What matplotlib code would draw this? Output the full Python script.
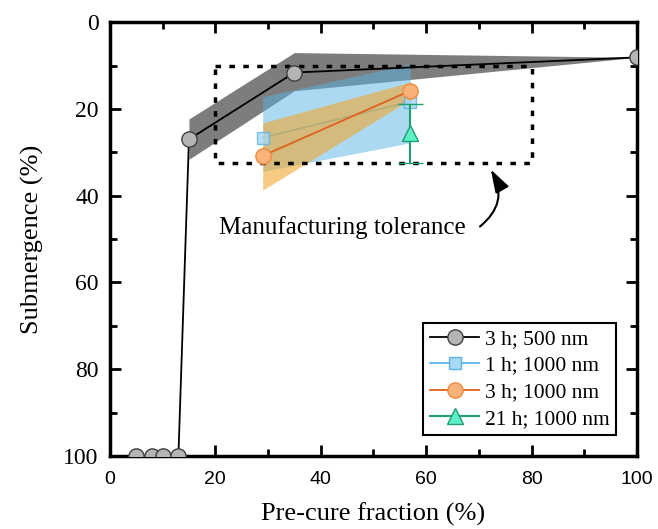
import numpy as np
import matplotlib
matplotlib.use("Agg")
import matplotlib.pyplot as plt
from matplotlib.lines import Line2D
from matplotlib.ticker import MultipleLocator

# 3 h; 500 nm
x_500 = [5, 8, 10, 13, 15, 35, 100]
y_500 = [100, 100, 100, 100, 27.0, 11.6, 8.1]
band_500_x = [15, 35, 100]
band_500_lo = [22.3, 7.0, 8.1]
band_500_hi = [31.6, 15.8, 8.1]

# 1 h; 1000 nm
x_1h = [29, 57]
y_1h = [26.6, 18.3]
band_1h_lo = [17.2, 9.6]
band_1h_hi = [34.4, 27.8]

# 3 h; 1000 nm
x_3h = [29, 57]
y_3h = [30.8, 15.8]
band_3h_lo = [23.2, 13.8]
band_3h_hi = [38.7, 17.8]

# 21 h; 1000 nm
x_21h = [57]
y_21h = [25.6]
err_21h = [6.8]

# tolerance box
tol_x = [20, 80]
tol_y = [10, 32.4]

serif = "Liberation Serif"
sans = "Liberation Sans"

c_blue = "#5ab4e6"
c_orange = "#e0601e"
c_green = "#1f9e70"

fig = plt.figure(figsize=(6.58, 5.29), dpi=100)
ax = fig.add_axes([0.167, 0.138, 0.801, 0.820])

ax.fill_between(band_500_x, band_500_lo, band_500_hi, color="#7d7d7d", lw=0, zorder=1)
ax.fill_between(x_1h, band_1h_lo, band_1h_hi, color=c_blue, alpha=0.5, lw=0, zorder=2)
ax.plot(x_1h, y_1h, color=c_blue, lw=1.2, zorder=2.5)
ax.fill_between(x_3h, band_3h_lo, band_3h_hi, color="#f0a830", alpha=0.6, lw=0, zorder=3)

# tolerance box
ax.plot([tol_x[0], tol_x[1], tol_x[1], tol_x[0], tol_x[0]],
        [tol_y[0], tol_y[0], tol_y[1], tol_y[1], tol_y[0]],
        color="black", lw=2.5, ls=(0, (1.6, 2.4)), zorder=4)

ax.plot(x_500, y_500, color="black", lw=1.3, marker="o", ms=11,
        mfc="#b5b5b5", mec="#404040", mew=1.0, zorder=6)
ax.plot(x_1h, y_1h, ls="none", marker="s", ms=9,
        mfc="#a8d8f4", mec=c_blue, mew=1.0, alpha=0.8, zorder=5)
ax.plot(x_3h, y_3h, color=c_orange, lw=1.3, marker="o", ms=11,
        mfc="#f9b27a", mec="#f08a40", mew=1.0, zorder=6)
ax.errorbar(x_21h, y_21h, yerr=err_21h, color=c_green, lw=1.5, marker="^", ms=12,
            mfc="#5cf0c4", mec=c_green, mew=1.0, capsize=9, capthick=1.5, zorder=7)

ax.set_xlim(0, 100)
ax.set_ylim(100, 0)
ax.xaxis.set_major_locator(MultipleLocator(20))
ax.xaxis.set_minor_locator(MultipleLocator(10))
ax.yaxis.set_major_locator(MultipleLocator(20))
ax.yaxis.set_minor_locator(MultipleLocator(10))
ax.tick_params(which="both", direction="in", top=True, right=True, width=2)
ax.tick_params(which="major", length=8)
ax.tick_params(which="minor", length=5)
ax.tick_params(axis="x", pad=11)
ax.tick_params(axis="y", pad=8)
for lab in ax.get_xticklabels():
    lab.set_fontfamily(sans)
    lab.set_fontsize(14)
for lab in ax.get_yticklabels():
    lab.set_fontfamily(serif)
    lab.set_fontsize(17)
for sp in ax.spines.values():
    sp.set_linewidth(2.5)

ax.set_xlabel("Pre-cure fraction (%)", fontfamily=serif, fontsize=19, labelpad=10)
ax.set_ylabel("Submergence (%)", fontfamily=serif, fontsize=19, labelpad=14)

ax.text(44.2, 47.4, "Manufacturing tolerance", fontfamily=serif, fontsize=18,
        ha="center", va="center", zorder=8)
ax.annotate("", xy=(72.0, 33.4), xytext=(69.8, 47.5),
            arrowprops=dict(arrowstyle="-|>,head_length=1.4,head_width=0.45",
                            connectionstyle="arc3,rad=0.45", color="black", lw=1.5),
            zorder=8)

handles = [
    Line2D([], [], color="black", lw=1.3, marker="o", ms=11, mfc="#b5b5b5", mec="#404040"),
    Line2D([], [], color=c_blue, lw=1.3, marker="s", ms=9, mfc="#a8d8f4", mec=c_blue),
    Line2D([], [], color=c_orange, lw=1.3, marker="o", ms=11, mfc="#f9b27a", mec="#f08a40"),
    Line2D([], [], color=c_green, lw=1.5, marker="^", ms=12, mfc="#5cf0c4", mec=c_green),
]
labels = ["3 h; 500 nm", "1 h; 1000 nm", "3 h; 1000 nm", "21 h; 1000 nm"]
leg = ax.legend(handles, labels, loc="lower right", bbox_to_anchor=(0.96, 0.048),
                frameon=True, fancybox=False, edgecolor="black", framealpha=1,
                prop={"family": serif, "size": 15.5}, handlelength=2.3,
                handletextpad=0.25, borderpad=0.3, labelspacing=0.3, borderaxespad=0)
leg.get_frame().set_linewidth(1.5)

fig.savefig("out.png", dpi=100)
